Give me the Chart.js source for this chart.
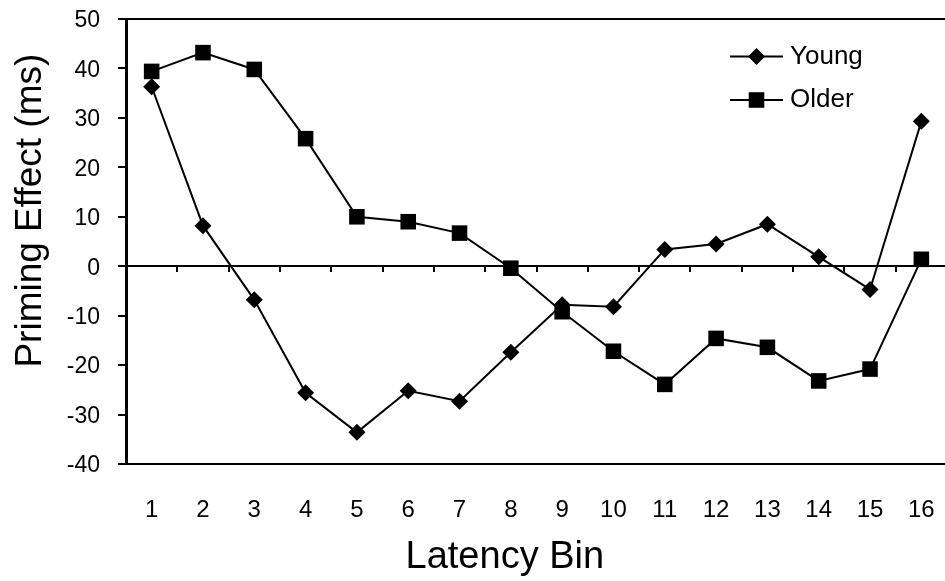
<!DOCTYPE html>
<html>
<head>
<meta charset="utf-8">
<title>Priming Effect by Latency Bin</title>
<script src="https://cdn.jsdelivr.net/npm/chart.js@4.4.0/dist/chart.umd.min.js"></script>
<style>
  html, body { margin: 0; padding: 0; background: #fff; overflow: hidden; }
  /* a bit wider than the window: the plot runs off the right edge like the original,
     and Chart.js reserves half a marker (11px) on that side */
  #wrap { width: 958px; height: 581px; }
</style>
</head>
<body>
<div id="wrap"><canvas id="chartPriming"></canvas></div>
<script>
/* data */
const bins = ['1','2','3','4','5','6','7','8','9','10','11','12','13','14','15','16'];
const young = [36.3, 8.2, -6.8, -25.6, -33.6, -25.2, -27.3, -17.4, -7.8, -8.2, 3.4, 4.5, 8.5, 1.9, -4.7, 29.3];
const older = [39.4, 43.2, 39.8, 25.8, 10.0, 9.0, 6.7, -0.4, -9.2, -17.2, -23.9, -14.6, -16.4, -23.2, -20.8, 1.4];
const yMin = -40;
const yMax = 50;
const yStep = 10;

const FONT = '"Liberation Sans", Arial, Helvetica, sans-serif';
const black = '#000';
const NBSP = '\u00a0';

// legend: line with marker in the middle, like the original
const lineLegend = {
    id: 'lineLegend',
    afterDraw(chart) {
        const { ctx, chartArea } = chart;
        const x0 = chartArea.right - 217;
        chart.data.datasets.forEach((ds, i) => {
            const y = chartArea.top + 37.5 + i * 43.5;
            ctx.save();
            ctx.strokeStyle = black;
            ctx.lineWidth = 2;
            ctx.beginPath();
            ctx.moveTo(x0, y);
            ctx.lineTo(x0 + 53, y);
            ctx.stroke();
            ctx.fillStyle = black;
            Chart.helpers.drawPoint(ctx, {
                pointStyle: ds.pointStyle, radius: ds.pointRadius, borderWidth: 0, rotation: 0
            }, x0 + 26.5, y);
            ctx.font = '26px ' + FONT;
            ctx.textBaseline = 'middle';
            ctx.textAlign = 'left';
            ctx.fillText(ds.label, x0 + 60, y);
            ctx.restore();
        });
    }
};

// keep the label overhang from pushing the plot area around
function noOverhang(s) {
    s.paddingTop = 0;
    s.paddingBottom = 0;
    s.paddingLeft = 0;
    s.paddingRight = 0;
}

new Chart(document.getElementById('chartPriming'), {
    type: 'line',
    data: {
        labels: bins,
        datasets: [
            {
                label: 'Young', data: young,
                borderColor: black, borderWidth: 2,
                pointStyle: 'rectRot', pointRadius: 8.5,
                pointBackgroundColor: black, pointBorderWidth: 0,
                tension: 0
            },
            {
                label: 'Older', data: older,
                borderColor: black, borderWidth: 2,
                pointStyle: 'rect', pointRadius: 11,
                pointBackgroundColor: black, pointBorderWidth: 0,
                tension: 0
            }
        ]
    },
    options: {
        responsive: true,
        maintainAspectRatio: false,
        animation: false,
        layout: { padding: { top: 19, right: 0, left: 0, bottom: 0 } },
        plugins: {
            legend: { display: false },
            tooltip: { enabled: false }
        },
        scales: {
            x: {
                offset: true,
                // invisible tick marks only hold the labels away from the plot
                grid: { display: true, drawOnChartArea: false, drawTicks: true, tickLength: 32, tickColor: 'rgba(0,0,0,0)', color: 'rgba(0,0,0,0)' },
                border: { display: false },
                ticks: { color: black, font: { size: 24, family: FONT }, padding: 0, maxRotation: 0 },
                title: {
                    display: true,
                    // trailing spaces pull the title left of the plot centre, as in the original
                    text: 'Latency Bin' + NBSP.repeat(6),
                    color: black,
                    font: { size: 38, family: FONT }, padding: { top: 0, bottom: 1 }
                },
                afterFit: s => { s.height = 117; noOverhang(s); }
            },
            // tick marks along the zero line
            x2: {
                type: 'category',
                labels: bins,
                offset: true,
                position: { y: 0 },
                grid: { offset: true, drawOnChartArea: false, drawTicks: true, tickLength: 6, color: black, lineWidth: 2 },
                border: { display: false },
                ticks: { display: false },
                afterFit: noOverhang
            },
            y: {
                min: yMin,
                max: yMax,
                ticks: { stepSize: yStep, color: black, font: { size: 23, family: FONT }, padding: 18, labelOffset: 2 },
                grid: {
                    color: ctx => (ctx.tick && [yMin, 0, yMax].includes(ctx.tick.value)) ? black : 'rgba(0,0,0,0)',
                    tickColor: black,
                    tickLength: 8,
                    lineWidth: 2
                },
                border: { color: black, width: 3 },
                title: {
                    display: true,
                    // leading spaces lift the title a little above the axis centre, as in the original
                    text: NBSP.repeat(6) + 'Priming Effect (ms)',
                    color: black,
                    font: { size: 37, family: FONT }, padding: { top: 9, bottom: 0 }
                },
                afterFit: s => { s.width = 126; noOverhang(s); }
            }
        }
    },
    plugins: [lineLegend]
});
</script>
</body>
</html>
